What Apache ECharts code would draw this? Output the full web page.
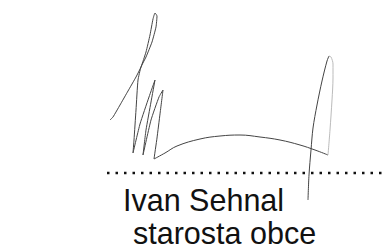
<!DOCTYPE html>
<html>
<head>
<meta charset="utf-8">
<script src="https://cdn.jsdelivr.net/npm/echarts@6/dist/echarts.min.js"></script>
<style>
html, body { margin: 0; padding: 0; background: #fff; }
#chart { width: 382px; height: 249px; }
</style>
</head>
<body>
<div id="chart"></div>
<script>
// signature strokes, in picture pixels (x right, y down)
var strokeLeft = [[110, 120], [113, 117], [120, 105], [128, 91], [136, 77], [141, 67], [146, 52], [150, 35],
    [153, 19], [155, 13], [157, 16], [156, 27], [152, 42], [146, 57], [141, 67], [138, 80], [136, 110],
    [134, 140], [133, 153], [140, 124], [149, 97], [155, 80], [151, 102], [146, 130], [143, 155],
    [151, 120], [159, 97], [163, 90], [160, 114], [157, 138], [154, 159]];
var strokeCurve = [[154, 159], [165, 153], [177, 146], [200, 139], [220, 136], [240, 135], [260, 137],
    [280, 140], [300, 145], [315, 150], [328, 155]];
var strokeFaint = [[328, 155], [330, 130], [332, 100], [333, 78], [333, 64], [331, 57], [329, 56]];
var strokeRight = [[329, 56], [327, 61], [322, 81], [317, 105], [313, 128], [311, 150], [309, 175], [308, 200]];
var dotLine = [[107, 173], [382, 173]];

var nameText = 'Ivan Sehnal';
var roleText = 'starosta obce';

var chart = echarts.init(document.getElementById('chart'), null, { renderer: 'svg' });

function strokeSeries(data, color, smooth) {
    return {
        type: 'line',
        data: data,
        symbol: 'none',
        smooth: smooth,
        silent: true,
        lineStyle: { color: color, width: 1 }
    };
}

var option = {
    animation: false,
    grid: { left: 0, right: 0, top: 0, bottom: 0 },
    xAxis: { type: 'value', min: 0, max: 382, show: false },
    yAxis: { type: 'value', min: 0, max: 249, inverse: true, show: false },
    series: [
        strokeSeries(strokeLeft, '#444', 0.15),
        strokeSeries(strokeCurve, '#444', 0.4),
        strokeSeries(strokeFaint, '#bbb', 0.3),
        strokeSeries(strokeRight, '#444', 0.3),
        {
            type: 'line',
            data: dotLine,
            symbol: 'none',
            silent: true,
            lineStyle: { color: '#111', width: 2.5, type: [2.5, 6] }
        }
    ],
    graphic: [
        {
            type: 'text', left: 123, top: 184,
            style: { text: nameText, fontFamily: 'Liberation Sans', fontSize: 30.5, fill: '#111' }
        },
        {
            type: 'text', left: 133, top: 217,
            style: { text: roleText, fontFamily: 'Liberation Sans', fontSize: 30.5, fill: '#111' }
        }
    ]
};

chart.setOption(option);
</script>
</body>
</html>
